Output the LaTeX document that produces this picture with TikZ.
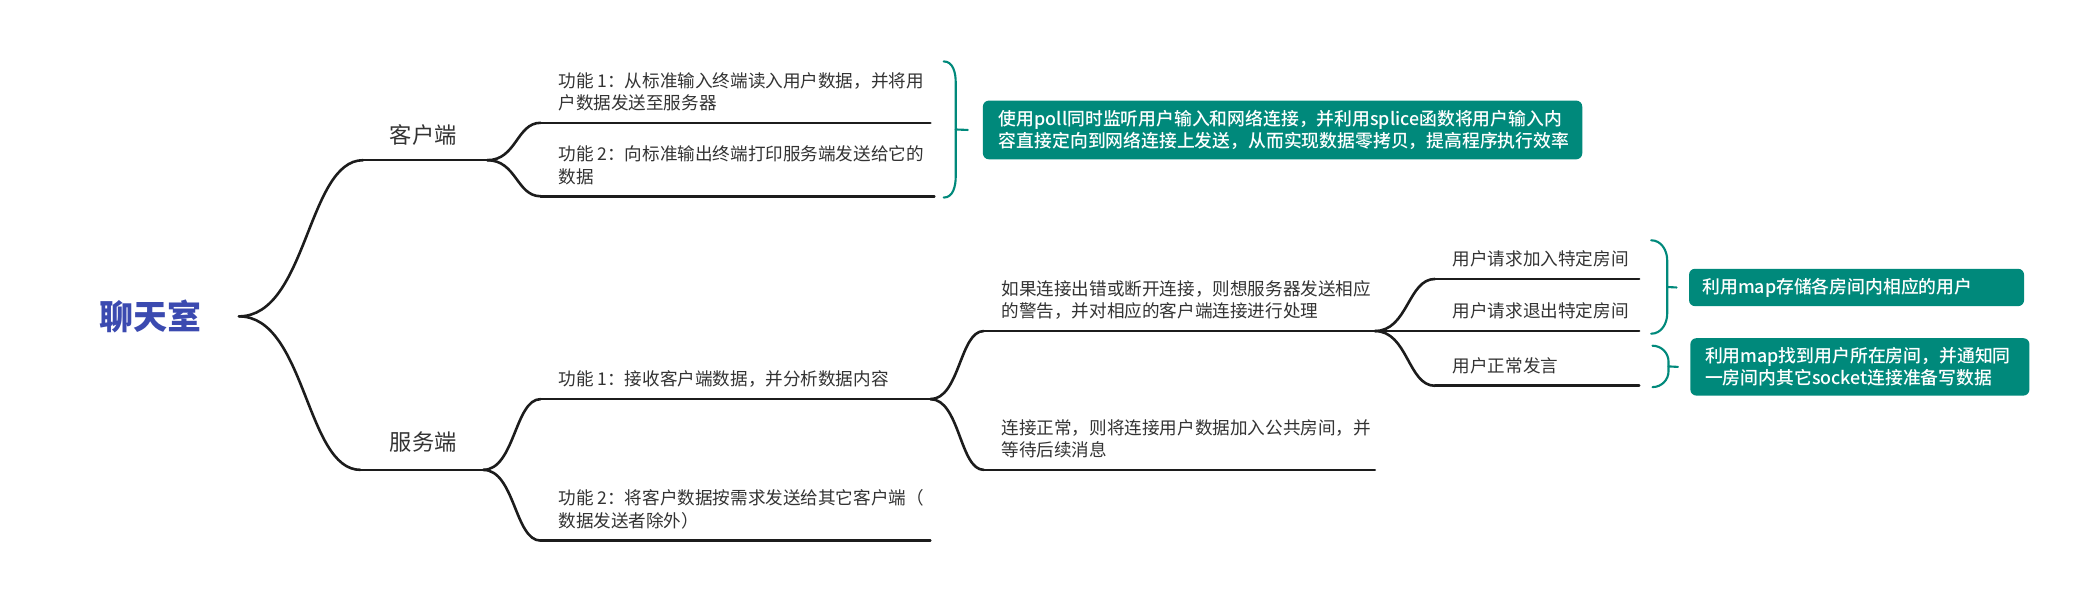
\documentclass[tikz,border=0pt]{standalone}
\usepackage{fontspec}
\setmainfont{Noto Sans CJK SC}
\newfontfamily\boxfont{Noto Sans CJK SC Medium}
\usetikzlibrary{calc}
\definecolor{teal1}{RGB}{0,137,123}
\definecolor{rootblue}{RGB}{59,74,176}
\definecolor{txtgray}{RGB}{51,51,51}
\definecolor{linec}{RGB}{28,28,28}
\newcommand{\pxu}{0.02cm}
\newcommand{\mmconn}[2]{%
  \draw[conn] let \p1=(#1), \p2=(#2) in (\p1) .. controls ({\x1+0.55*(\x2-\x1)},\y1) and ({\x1+0.55*(\x2-\x1)},\y2) .. (\p2);}
\newcommand{\mmtopic}[5]{%
  \coordinate (#1-s) at (#2,#4);
  \coordinate (#1-e) at (#3,#4);
  \draw[uline] (#1-s) -- (#1-e);
  \node[txt] (#1) at ($(#1-s)+(13,-4.4)$) {#5};}
\begin{document}
\begin{tikzpicture}[x=0.02cm,y=-0.02cm,
  conn/.style={draw=linec,line width=1.1pt,line cap=round},
  uline/.style={draw=linec,line width=1.1pt,line cap=round},
  txt/.style={text=txtgray,font=\fontsize{7.5pt}{9.64pt}\selectfont,align=left,inner sep=0pt,anchor=south west,execute at end node=\strut},
  lone/.style={text=txtgray,font=\fontsize{9.5pt}{11pt}\selectfont,inner sep=0pt},
  box/.style={fill=teal1,rounded corners=0.09cm,text=white,font=\boxfont\fontsize{7.6pt}{9.64pt}\selectfont,align=left,anchor=north west},
  brace/.style={draw=teal1,line width=0.9pt,line cap=round}]
\fill[white] (0,0) rectangle (1568,454);
\useasboundingbox (0,0) rectangle (1568,454);

% root
\node[text=rootblue,font=\fontsize{14.5pt}{17pt}\selectfont\bfseries,inner sep=0pt] (root) at (113,237) {聊天室};
\coordinate (root-e) at (179,237);

% level 1
\coordinate (cl-s) at (272,120); \coordinate (cl-e) at (365,120);
\draw[uline] (cl-s) -- (cl-e);
\node[lone] (cl) at (317,101) {客户端};
\coordinate (sv-s) at (270,352); \coordinate (sv-e) at (362,352);
\draw[uline] (sv-s) -- (sv-e);
\node[lone] (sv) at (317,331) {服务端};
\mmconn{root-e}{cl-s}
\mmconn{root-e}{sv-s}

% client children
\mmtopic{c1}{405}{697}{92}{功能 1：从标准输入终端读入用户数据，并将用\\户数据发送至服务器}
\mmtopic{c2}{405}{700}{147}{功能 2：向标准输出终端打印服务端发送给它的\\数据}
\mmconn{cl-e}{c1-s}
\mmconn{cl-e}{c2-s}

% server children
\mmtopic{s1}{405}{697}{299}{功能 1：接收客户端数据，并分析数据内容}
\mmtopic{s2}{405}{697}{405}{功能 2：将客户数据按需求发送给其它客户端（\\数据发送者除外）}
\mmconn{sv-e}{s1-s}
\mmconn{sv-e}{s2-s}

\mmtopic{s11}{737}{1030}{248}{如果连接出错或断开连接，则想服务器发送相应\\的警告，并对相应的客户端连接进行处理}
\mmtopic{s12}{737}{1030}{352}{连接正常，则将连接用户数据加入公共房间，并\\等待后续消息}
\mmconn{s1-e}{s11-s}
\mmconn{s1-e}{s12-s}

\mmtopic{u1}{1075}{1228}{209}{用户请求加入特定房间}
\mmtopic{u2}{1075}{1228}{248}{用户请求退出特定房间}
\mmtopic{u3}{1075}{1228}{289}{用户正常发言}
\mmconn{s11-e}{u1-s}
\mmconn{s11-e}{u2-s}
\mmconn{s11-e}{u3-s}

% summaries
\node[box,minimum height=44*\pxu,text width=425*\pxu,inner xsep=12*\pxu,inner ysep=0pt] (ba) at (736,75) {使用poll同时监听用户输入和网络连接，并利用splice函数将用户输入内\\容直接定向到网络连接上发送，从而实现数据零拷贝，提高程序执行效率};
\node[box,minimum height=28*\pxu,text width=231*\pxu,inner xsep=10*\pxu,inner ysep=0pt] (bb) at (1265,201) {利用map存储各房间内相应的用户};
\node[box,minimum height=43*\pxu,text width=232*\pxu,inner xsep=11*\pxu,inner ysep=0pt] (bc) at (1266,253) {利用map找到用户所在房间，并通知同\\一房间内其它socket连接准备写数据};

\draw[brace] (707,46) to[out=0,in=90] (716,62) -- (716,132) to[out=-90,in=0] (707,148);
\draw[brace] (716,97) -- (ba.west -| 725,0);
\draw[brace] (1237,180) to[out=0,in=90] (1249,195) -- (1249,235) to[out=-90,in=0] (1237,250);
\draw[brace] (1249,215) -- (bb.west -| 1256,0);
\draw[brace] (1238,259) to[out=0,in=90] (1250,271) -- (1250,278) to[out=-90,in=0] (1238,290);
\draw[brace] (1250,274.5) -- (bc.west -| 1257,0);
\end{tikzpicture}
\end{document}
